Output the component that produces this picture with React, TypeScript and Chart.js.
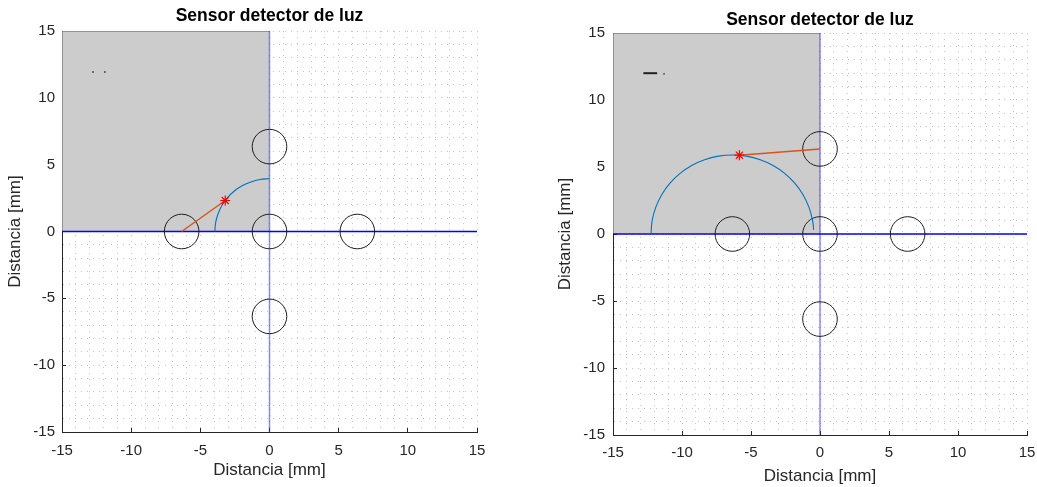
import React, { useEffect, useRef } from "react";
import { Chart, registerables } from "chart.js";

Chart.register(...registerables);
Chart.defaults.font.family = "'Liberation Sans', Arial, Helvetica, sans-serif";

// ---------- texts ----------
const TITLE = "Sensor detector de luz";
const X_LABEL = "Distancia [mm]";
const Y_LABEL = "Distancia [mm]";

// ---------- axes ----------
const AXIS_MIN = -15;
const AXIS_MAX = 15;
const MINOR_STEP = 1;
const MAJOR_STEP = 5;

// ---------- shared elements ----------
const sensorX = [0, 0, 6.35, -6.35, 0];
const sensorY = [6.35, 0, 0, 0, -6.35];

const shadeX = [-15, -15, 0];
const shadeY = [0, 15, 15];

const hLineX = [-15, 15];
const hLineY = [0, 0];
const vLineX = [0, 0];
const vLineY = [-15, 15];

// ---------- left panel ----------
const leftArcX = [0, -0.69, -1.35, -1.98, -2.54, -3.03, -3.42, -3.71, -3.89, -3.95];
const leftArcY = [3.95, 3.89, 3.71, 3.42, 3.03, 2.54, 1.98, 1.35, 0.69, 0];
const leftRayX = [-6.35, -3.2];
const leftRayY = [0, 2.32];
const leftStarX = [-3.2];
const leftStarY = [2.32];
const leftMarkX = [-12.76, -11.9];
const leftMarkY = [11.93, 11.93];
const leftDashX: number[] = [];
const leftDashY: number[] = [];

// ---------- right panel ----------
const rightArcX = [-12.25, -12.16, -11.89, -11.46, -10.87, -10.14, -9.3, -8.37, -7.37, -6.35, -5.33, -4.33, -3.4, -2.56, -1.83, -1.24, -0.81, -0.54, -0.46];
const rightArcY = [0, 1.02, 2.02, 2.95, 3.79, 4.52, 5.11, 5.54, 5.81, 5.9, 5.81, 5.54, 5.11, 4.52, 3.79, 2.95, 2.02, 1.02, 0.31];
const rightRayX = [-5.84, 0];
const rightRayY = [5.88, 6.35];
const rightStarX = [-5.84];
const rightStarY = [5.88];
const rightMarkX = [-11.3];
const rightMarkY = [11.95];
const rightDashX = [-12.8, -11.8];
const rightDashY = [12.0, 12.0];

type PanelData = {
  arcX: number[]; arcY: number[];
  rayX: number[]; rayY: number[];
  starX: number[]; starY: number[];
  markX: number[]; markY: number[];
  dashX: number[]; dashY: number[];
};

type PanelLayout = {
  left: number; width: number; height: number;
  padRight: number;
  titleTop: number; titleBottom: number;
  xAxisHeight: number; yAxisWidth: number;
  xTickPad: number; yTickPad: number;
  xTitlePad: number; yTitlePad: number;
  sensorRadius: number;
};

const LEFT_DATA: PanelData = {
  arcX: leftArcX, arcY: leftArcY, rayX: leftRayX, rayY: leftRayY,
  starX: leftStarX, starY: leftStarY, markX: leftMarkX, markY: leftMarkY,
  dashX: leftDashX, dashY: leftDashY,
};
const RIGHT_DATA: PanelData = {
  arcX: rightArcX, arcY: rightArcY, rayX: rightRayX, rayY: rightRayY,
  starX: rightStarX, starY: rightStarY, markX: rightMarkX, markY: rightMarkY,
  dashX: rightDashX, dashY: rightDashY,
};

const TICK_LEN = -4;

const LEFT_LAYOUT: PanelLayout = {
  left: 0, width: 518, height: 487, padRight: 41,
  titleTop: 6, titleBottom: 4,
  xAxisHeight: 55, yAxisWidth: 62,
  xTickPad: 9.7 - TICK_LEN, yTickPad: 7 - TICK_LEN,
  xTitlePad: 6.8, yTitlePad: 5.3,
  sensorRadius: 17.3,
};
const RIGHT_LAYOUT: PanelLayout = {
  left: 518, width: 519, height: 487, padRight: 10,
  titleTop: 9.5, titleBottom: 2.5,
  xAxisHeight: 52, yAxisWidth: 95,
  xTickPad: 9 - TICK_LEN, yTickPad: 8 - TICK_LEN,
  xTitlePad: 0.8, yTitlePad: 36.8,
  sensorRadius: 17.3,
};

const pts = (xs: number[], ys: number[]) => xs.map((x, i) => ({ x, y: ys[i] }));

const AXIS_COLOR = "#262626";
const GRID_COLOR = "#c4c4c4";

function scaleOptions(isX: boolean, L: PanelLayout) {
  return {
    type: "linear",
    position: isX ? "bottom" : "left",
    min: AXIS_MIN,
    max: AXIS_MAX,
    ticks: {
      stepSize: MINOR_STEP,
      maxTicksLimit: 1000,
      autoSkip: false,
      maxRotation: 0,
      minRotation: 0,
      padding: isX ? L.xTickPad : L.yTickPad,
      color: AXIS_COLOR,
      font: { size: 15 },
      callback: (v: number) => (Math.round(v) % MAJOR_STEP === 0 ? String(v) : ""),
    },
    grid: {
      color: GRID_COLOR,
      lineWidth: 1,
      drawTicks: true,
      tickLength: TICK_LEN,
      tickWidth: 1,
      tickBorderDash: [],
      tickColor: (ctx: any) =>
        ctx.tick && Math.round(ctx.tick.value) % MAJOR_STEP === 0 ? AXIS_COLOR : "rgba(0,0,0,0)",
    },
    border: { display: true, color: AXIS_COLOR, width: 1, dash: [1, 5] },
    title: {
      display: true,
      text: isX ? X_LABEL : Y_LABEL,
      color: AXIS_COLOR,
      font: { size: 17 },
      padding: isX ? { top: 0, bottom: L.xTitlePad } : { top: L.yTitlePad, bottom: 0 },
    },
    afterFit: (s: any) => {
      if (isX) s.height = L.xAxisHeight;
      else s.width = L.yAxisWidth;
      s.paddingLeft = 0;
      s.paddingRight = 0;
      s.paddingTop = 0;
      s.paddingBottom = 0;
    },
  };
}

function buildConfig(p: PanelData, L: PanelLayout): any {
  return {
    type: "line",
    data: {
      datasets: [
        {
          label: "shade", data: pts(shadeX, shadeY), fill: "origin",
          backgroundColor: "#cccccc", borderColor: "#5a5a5a", borderWidth: 1,
          pointRadius: 0, order: 10,
        },
        {
          label: "vline", data: pts(vLineX, vLineY), fill: false,
          borderColor: "rgba(40,40,255,0.55)", borderWidth: 1.5, pointRadius: 0, order: 8,
        },
        {
          label: "hline", data: pts(hLineX, hLineY), fill: false,
          borderColor: "#0000ff", borderWidth: 1.3, pointRadius: 0, order: 7,
        },
        {
          label: "sensors", data: pts(sensorX, sensorY), showLine: false,
          pointStyle: "circle", pointRadius: L.sensorRadius,
          pointBorderColor: "#1e1e1e", pointBackgroundColor: "rgba(0,0,0,0)",
          pointBorderWidth: 1, order: 5,
        },
        {
          label: "arc", data: pts(p.arcX, p.arcY), fill: false,
          borderColor: "#0072BD", borderWidth: 1.1, pointRadius: 0,
          tension: 0.4, order: 4,
        },
        {
          label: "ray", data: pts(p.rayX, p.rayY), fill: false,
          borderColor: "#D95319", borderWidth: 1.5, pointRadius: 0, order: 3,
        },
        {
          label: "star", data: pts(p.starX, p.starY), showLine: false,
          pointStyle: "star", pointRadius: 5, pointBorderColor: "#ff0000",
          pointBackgroundColor: "#ff0000", pointBorderWidth: 1.2, order: 2,
        },
        {
          label: "marks", data: pts(p.markX, p.markY), showLine: false,
          pointStyle: "rect", pointRadius: 1, pointBorderWidth: 0,
          pointBackgroundColor: "#202020", order: 1,
        },
        {
          label: "dash", data: pts(p.dashX, p.dashY), fill: false,
          borderColor: "#202020", borderWidth: 2, pointRadius: 0, order: 1,
        },
      ],
    },
    options: {
      animation: false,
      responsive: false,
      maintainAspectRatio: false,
      events: [],
      layout: { autoPadding: false, padding: { left: 0, right: L.padRight, top: 0, bottom: 0 } },
      plugins: {
        legend: { display: false },
        tooltip: { enabled: false },
        title: {
          display: true,
          text: TITLE,
          fullSize: false,
          color: "#000000",
          font: { size: 17.5, weight: "bold" },
          padding: { top: L.titleTop, bottom: L.titleBottom },
        },
      },
      scales: {
        x: scaleOptions(true, L),
        y: scaleOptions(false, L),
      },
    },
  };
}

function Panel({ data, layout }: { data: PanelData; layout: PanelLayout }) {
  const ref = useRef<HTMLCanvasElement | null>(null);
  useEffect(() => {
    if (!ref.current) return;
    const chart = new Chart(ref.current, buildConfig(data, layout));
    return () => chart.destroy();
  }, [data, layout]);
  return (
    <canvas
      ref={ref}
      width={layout.width}
      height={layout.height}
      style={{
        position: "absolute",
        left: layout.left,
        top: 0,
        width: layout.width,
        height: layout.height,
      }}
    />
  );
}

export default function App() {
  return (
    <div
      style={{
        position: "absolute",
        left: 0,
        top: 0,
        width: 1037,
        height: 487,
        background: "#ffffff",
        overflow: "hidden",
      }}
    >
      <Panel data={LEFT_DATA} layout={LEFT_LAYOUT} />
      <Panel data={RIGHT_DATA} layout={RIGHT_LAYOUT} />
    </div>
  );
}
